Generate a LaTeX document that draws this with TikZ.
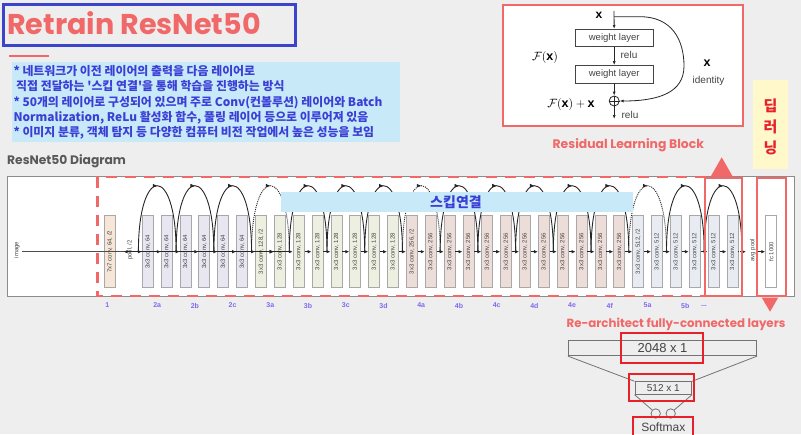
\documentclass[tikz,border=0pt]{standalone}
\usepackage{graphicx}
\usepackage{fontspec}
\setmainfont{Liberation Sans}
\newfontfamily\kr{Noto Sans CJK KR}
\newfontfamily\pop{Poppins}
\usetikzlibrary{arrows.meta,decorations.markings,calc}
\definecolor{bg}{HTML}{EEEEEE}
\definecolor{coral}{HTML}{F06868}
\definecolor{tblue}{HTML}{3C44CC}
\definecolor{lblue}{HTML}{C8E9F8}
\definecolor{txtblue}{HTML}{3B3FD6}
\definecolor{lab}{HTML}{8466EE}
\definecolor{brd}{HTML}{A8A8A8}
\definecolor{c1}{HTML}{F6E6D8}
\definecolor{c2}{HTML}{E8E6F0}
\definecolor{c3}{HTML}{EDF0E0}
\definecolor{c4}{HTML}{EDDDD9}
\definecolor{c5}{HTML}{E8ECF2}
\definecolor{rred}{HTML}{E8202A}
\definecolor{yel}{HTML}{FFF8CA}
\definecolor{dg}{HTML}{444444}
\tikzset{
  layer/.style={draw=brd, line width=0.8pt, minimum width=11pt, minimum height=72pt, inner sep=0pt, font=\fontsize{6}{6}\selectfont, text=dg},
  rot/.style={rotate=90, inner sep=0pt, font=\fontsize{6}{6}\selectfont, text=dg},
  arr/.style={line width=0.8pt, draw=black!85, -{Latex[length=4pt,width=3.5pt]}},
  skiparc/.style={line width=0.9pt, draw=black!85, postaction={decorate}, decoration={markings, mark=at position 0.5 with {\arrow{Latex[length=4.5pt,width=4pt]}}}},
  dotarc/.style={skiparc, dash pattern=on 1pt off 1pt},
  stage/.style={text=lab, font=\fontsize{7}{7}\selectfont\bfseries},
  wl/.style={draw=dg, fill=white, line width=0.7pt, minimum width=78pt, minimum height=17.4pt, inner sep=0pt, font=\fontsize{9.5}{9.5}\selectfont, text=dg},
  rarr/.style={line width=0.8pt, draw=black!85, -{Latex[length=4pt,width=3pt]}},
  redbox/.style={draw=rred, line width=2pt, inner sep=0pt},
}
\begin{document}
\begin{tikzpicture}[x=1pt,y=-1pt]
\fill[bg] (0,0) rectangle (801,434);
\useasboundingbox (0,0) rectangle (801,434);

% title
\node[draw=tblue, line width=3pt, minimum width=292pt, minimum height=41pt, inner sep=0pt] (titlebox) at (149.5,24.5) {};
\node[anchor=west, text=coral, font=\pop\bfseries\fontsize{28.6}{28.6}\selectfont, inner sep=0pt] (title) at (7,23) {Retrain ResNet50};
\draw[coral, line width=1.2pt] (9.3,56) -- (49.3,56);

% description
\node[fill=lblue, minimum width=388pt, minimum height=80pt, inner sep=0pt] (desc) at (206,101.7) {};
\node[anchor=north west, text=txtblue, align=left, inner sep=0pt, font=\kr\bfseries\fontsize{11.9}{15.25}\selectfont] (desctext) at (13.3,65.3) {* 네트워크가 이전 레이어의 출력을 다음 레이어로\\
\ 직접 전달하는 '스킵 연결'을 통해 학습을 진행하는 방식\\
* 50개의 레이어로 구성되어 있으며 주로 Conv(컨볼루션) 레이어와 Batch\\
Normalization, ReLu 활성화 함수, 풀링 레이어 등으로 이루어져 있음\\
* 이미지 분류, 객체 탐지 등 다양한 컴퓨터 비전 작업에서 높은 성능을 보임};

% residual learning block
\node[draw=coral, fill=white, line width=2pt, minimum width=240pt, minimum height=121pt, inner sep=0pt] (rbox) at (622.7,65.2) {};
\node[font=\fontsize{12}{12}\selectfont] (xin) at (599,15) {$\mathbf{x}$};
\coordinate (rtop) at (614,11);
\node[wl] (w1) at (614.2,38) {weight layer};
\node[wl] (w2) at (614.2,74.2) {weight layer};
\node[circle, draw=black!85, line width=0.8pt, minimum size=10pt, inner sep=0pt] (plus) at (614.2,101) {};
\draw[line width=0.8pt, black!85] (plus.north) -- (plus.south) (plus.west) -- (plus.east);
\coordinate (rbot) at (614.2,119);
\draw[rarr] (rtop) -- (w1.north);
\draw[rarr] (w1.south) -- (w2.north);
\draw[rarr] (w2.south) -- (plus.north);
\draw[rarr] (plus.south) -- (rbot);
\node[font=\fontsize{10}{10}\selectfont, text=dg] (relu1) at (629,55) {relu};
\node[font=\fontsize{10}{10}\selectfont, text=dg] (relu2) at (630,115) {relu};
\node[font=\fontsize{12.5}{12.5}\selectfont] (fx) at (545,57) {$\mathcal{F}(\mathbf{x})$};
\node[font=\fontsize{12.5}{12.5}\selectfont] (fxx) at (571,104) {$\mathcal{F}(\mathbf{x})+\mathbf{x}$};
\draw[rarr] (rtop |- 0,16.7) -- (640,16.7) .. controls (672,16.7) and (684,40) .. (684,66) .. controls (684,92) and (660,101) .. (plus.east);
\node[font=\fontsize{12.5}{12.5}\selectfont] (xid) at (707,63) {$\mathbf{x}$};
\node[font=\fontsize{10}{10}\selectfont, text=dg] (ident) at (708.5,81) {identity};
\node[text=coral, font=\pop\bfseries\fontsize{12.4}{12.4}\selectfont] (rlb) at (628.3,145.5) {Residual Learning Block};

% yellow box
\node[fill=yel, minimum width=34.4pt, minimum height=89.3pt, inner sep=0pt] (ybox) at (770.5,124.7) {};
\node[text=rred, align=center, font=\kr\bfseries\fontsize{15}{21}\selectfont] (dl) at (770.5,127) {딥\\러\\닝};

% diagram
\node[anchor=west, text=black!65, font=\pop\bfseries\fontsize{12.3}{12.3}\selectfont, inner sep=0pt] (diagtitle) at (7,161.7) {ResNet50 Diagram};
\node[draw=black!45, fill=white, line width=1pt, minimum width=787pt, minimum height=120pt, inner sep=0pt] (frame) at (400.8,236.7) {};
\draw[coral, line width=2.5pt, dash pattern=on 11pt off 8pt] (706,177.2) -- (97.3,177.2) -- (97.3,296.2) -- (706,296.2);

\node[rot] (image) at (16.7,250) {image};
\node[layer, fill=c1] (b7) at (109.8,251.7) {\rotatebox{90}{7x7 conv, 64, /2}};
\node[rot] (pool) at (130,250) {pool, /2};
\foreach \i/\t/\c in {
 0/{3x3 conv, 64}/c2, 1/{3x3 conv, 64}/c2, 2/{3x3 conv, 64}/c2, 3/{3x3 conv, 64}/c2, 4/{3x3 conv, 64}/c2, 5/{3x3 conv, 64}/c2,
 6/{3x3 conv, 128, /2}/c3, 7/{3x3 conv, 128}/c3, 8/{3x3 conv, 128}/c3, 9/{3x3 conv, 128}/c3, 10/{3x3 conv, 128}/c3, 11/{3x3 conv, 128}/c3, 12/{3x3 conv, 128}/c3, 13/{3x3 conv, 128}/c3,
 14/{3x3 conv, 256, /2}/c4, 15/{3x3 conv, 256}/c4, 16/{3x3 conv, 256}/c4, 17/{3x3 conv, 256}/c4, 18/{3x3 conv, 256}/c4, 19/{3x3 conv, 256}/c4, 20/{3x3 conv, 256}/c4, 21/{3x3 conv, 256}/c4, 22/{3x3 conv, 256}/c4, 23/{3x3 conv, 256}/c4, 24/{3x3 conv, 256}/c4, 25/{3x3 conv, 256}/c4,
 26/{3x3 conv, 512, /2}/c5, 27/{3x3 conv, 512}/c5, 28/{3x3 conv, 512}/c5, 29/{3x3 conv, 512}/c5, 30/{3x3 conv, 512}/c5, 31/{3x3 conv, 512}/c5}
 {\node[layer, fill=\c] (b\i) at ({147.8+\i*18.86},251.7) {\rotatebox{90}{\t}};}
\node[rot] (avg) at (752.7,250) {avg pool};
\node[layer, fill=white] (fc) at (771.2,251.7) {\rotatebox{90}{fc 1000}};

% feet of skip arcs
\foreach \k in {0,...,16} {\coordinate (f\k) at ({138.4+\k*37.72},251.7);}

% main line
\draw[line width=1.2pt, black!70, -{Latex[length=4.5pt,width=4pt]}] (21.7,251.7) -- (b7.west);
\draw[arr] (b7.east) -- (123.5,251.7);
\draw[arr] (f0) -- (b0.west);
\foreach \i [evaluate=\i as \j using int(\i+1)] in {0,...,30} {\draw[arr] (b\i.east) -- (b\j.west);}
\draw[arr, dash pattern=on 1pt off 1pt] (b31.east) -- (746,251.7);
\draw[arr] (758,251.7) -- (fc.west);

% skip arcs
\foreach \k [evaluate=\k as \m using int(\k+1)] in {0,1,2,4,5,6,8,9,10,11,12,14,15} {
  \draw[skiparc] (f\k) .. controls +(0,-88) and +(0,-88) .. (f\m);}
\foreach \k [evaluate=\k as \m using int(\k+1)] in {3,7,13} {
  \draw[dotarc] (f\k) .. controls +(0,-88) and +(0,-88) .. (f\m);}

% skip label
\node[fill=lblue, minimum width=352pt, minimum height=19.4pt, inner sep=0pt] (skipbox) at (457,202) {};
\node[text=txtblue, font=\kr\bfseries\fontsize{14}{14}\selectfont] (skiptxt) at (456,202) {스킵연결};

% stage labels
\node[stage] (s1) at (107.3,305.5) {1};
\foreach \k/\l in {0/2a,1/2b,2/2c,3/3a,4/3b,5/3c,6/3d,7/4a,8/4b,9/4c,10/4d,11/4e,12/4f,13/5a,14/5b}
  {\node[stage] (s\l) at ({157.2+\k*37.72},305.5) {\l};}
\node[stage] (sdots) at (704,305.5) {...};

% red highlight boxes in diagram
\node[draw=coral, line width=2pt, minimum width=37.3pt, minimum height=118.3pt, inner sep=0pt] (resbox) at (723.6,236.9) {};
\node[draw=coral, line width=2pt, minimum width=29pt, minimum height=118.3pt, inner sep=0pt] (fcbox) at (771.2,236.9) {};
\fill[coral] (710.7,176.5) -- (721.7,157.3) -- (732.7,176.5) -- cycle;
\fill[coral] (761.7,297.5) -- (778.3,297.5) -- (770,311.7) -- cycle;

% re-architect
\node[text=coral, font=\pop\bfseries\fontsize{11.8}{11.8}\selectfont] (rearch) at (676,324.3) {Re-architect fully-connected layers};
\node[draw=black!55, line width=0.8pt, minimum width=188.4pt, minimum height=15pt, inner sep=0pt, text=dg, font=\fontsize{13}{13}\selectfont] (fc1) at (662.5,348.2) {2048 x 1};
\node[draw=black!55, line width=0.8pt, minimum width=56.7pt, minimum height=12.6pt, inner sep=0pt, text=dg, font=\fontsize{10}{10}\selectfont] (fc2) at (663.3,388) {512 x 1};
\draw[black!55, line width=0.8pt] (fc1.south west) -- (fc2.north west) (fc1.south east) -- (fc2.north east);
\node[circle, draw=black!55, line width=0.8pt, minimum size=9.4pt, inner sep=0pt] (sm1) at (655.7,413.5) {};
\node[circle, draw=black!55, line width=0.8pt, minimum size=9.4pt, inner sep=0pt] (sm2) at (670.7,413.5) {};
\draw[black!55, line width=0.8pt] (fc2.south west) -- (sm1.north west) (fc2.south east) -- (sm2.north east);
\node[text=dg, font=\fontsize{12}{12}\selectfont] (softmax) at (663.3,427.5) {Softmax};
\node[redbox, minimum width=82.6pt, minimum height=30pt] (r1) at (662,347.7) {};
\node[redbox, minimum width=65pt, minimum height=26.7pt] (r2) at (661.8,387.3) {};
\node[redbox, minimum width=60pt, minimum height=20pt] (r3) at (663.3,427.3) {};
\end{tikzpicture}
\end{document}
